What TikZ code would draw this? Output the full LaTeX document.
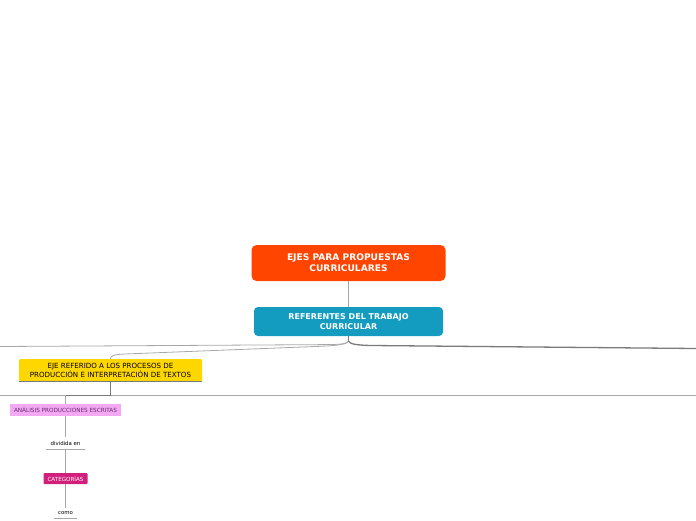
\documentclass[tikz,border=0pt]{standalone}
\usepackage{fontspec}
\setmainfont{DejaVu Sans}
\definecolor{ejesred}{HTML}{FF4500}
\definecolor{refblue}{HTML}{149CC0}
\definecolor{ejeyellow}{HTML}{FFD700}
\definecolor{anapink}{HTML}{F2A8F2}
\definecolor{anatext}{HTML}{6A2A6A}
\definecolor{catmag}{HTML}{D11F7C}
\definecolor{linegray}{HTML}{A8A8A8}
\definecolor{linedark}{HTML}{7A7A7A}
\begin{document}
\begin{tikzpicture}[x=1pt,y=-1pt,
  topic/.style={inner sep=0,align=center,text=white},
  sub/.style={inner sep=0,align=center},
  conn/.style={draw=linegray,line width=0.8pt},
  bigconn/.style={draw=linedark,line width=1.3pt}]
  \useasboundingbox (0,0) rectangle (696,520);
  % ---- central topics ----
  \node[topic,fill=ejesred,rounded corners=5pt,minimum width=194,minimum height=36,
        font=\bfseries\fontsize{9.1}{11}\selectfont] (ejes) at (348.5,263)
        {EJES PARA PROPUESTAS\\CURRICULARES};
  \node[topic,fill=refblue,rounded corners=4pt,minimum width=189,minimum height=29,
        font=\bfseries\fontsize{8}{10}\selectfont] (referentes) at (348.5,321.5)
        {REFERENTES DEL TRABAJO\\CURRICULAR};
  % ---- left branch ----
  \node[sub,fill=ejeyellow,rounded corners=1pt,minimum width=183,minimum height=22,
        font=\fontsize{7.1}{9}\selectfont] (ejeuno) at (110.5,370)
        {EJE REFERIDO A LOS PROCESOS DE\\PRODUCCIÓN E INTERPRETACIÓN DE TEXTOS};
  \draw[linedark,line width=0.6pt] (ejeuno.south west) -- (ejeuno.south east);
  \node[sub,fill=anapink,text=anatext,minimum width=111,minimum height=12,
        font=\fontsize{5.7}{6}\selectfont] (analisis) at (65.5,410)
        {ANÁLISIS PRODUCCIONES ESCRITAS};
  \node[sub,minimum width=39,minimum height=12,font=\fontsize{5.4}{6}\selectfont]
        (dividida) at (65.5,443) {dividida en};
  \draw[linegray,line width=0.8pt] (dividida.south west) -- (dividida.south east);
  \node[sub,fill=catmag,text=white,rounded corners=1pt,minimum width=44,minimum height=11,
        font=\fontsize{5.6}{6}\selectfont] (categorias) at (65.5,478.5) {CATEGORÍAS};
  \node[sub,minimum width=23,minimum height=10,font=\fontsize{5.4}{6}\selectfont]
        (como) at (65.5,513) {como};
  \draw[linegray,line width=0.8pt] (como.south west) -- (como.south east);
  % ---- connectors ----
  \coordinate (hub) at (348.5,341);
  \coordinate (leftend) at (0,346.5);
  \coordinate (rightend) at (696,348.5);
  \coordinate (railleft) at (0,395.5);
  \coordinate (railright) at (696,395.5);
  \coordinate (ejeknee) at (110.5,395.5);
  \coordinate (anaknee) at (65.5,395.5);
  \draw[conn] (ejes.south) -- (referentes.north);
  \draw[bigconn,line width=0.9pt] (referentes.south) -- (hub);
  \draw[conn] (hub) .. controls (347,344) and (340,344.5) .. (325,344.6) -- (leftend);
  \draw[conn] (hub) .. controls (347,344.5) and (338,345.5) .. (320,346.3)
        -- (125,354) .. controls (113,354.5) and (110.5,356) .. (ejeuno.north);
  \draw[bigconn] (hub) .. controls (349.5,344) and (356,345.2) .. (372,345.5) -- (rightend);
  \draw[conn] (railleft) -- (railright);
  \draw[linedark,line width=1pt] (ejeuno.south) -- (ejeknee) -- (anaknee);
  \draw[conn] (anaknee) -- (analisis.north);
  \draw[conn] (analisis.south) -- (dividida.north);
  \draw[conn] (dividida.south) -- (categorias.north);
  \draw[conn] (categorias.south) -- (como.north);
\end{tikzpicture}
\end{document}
